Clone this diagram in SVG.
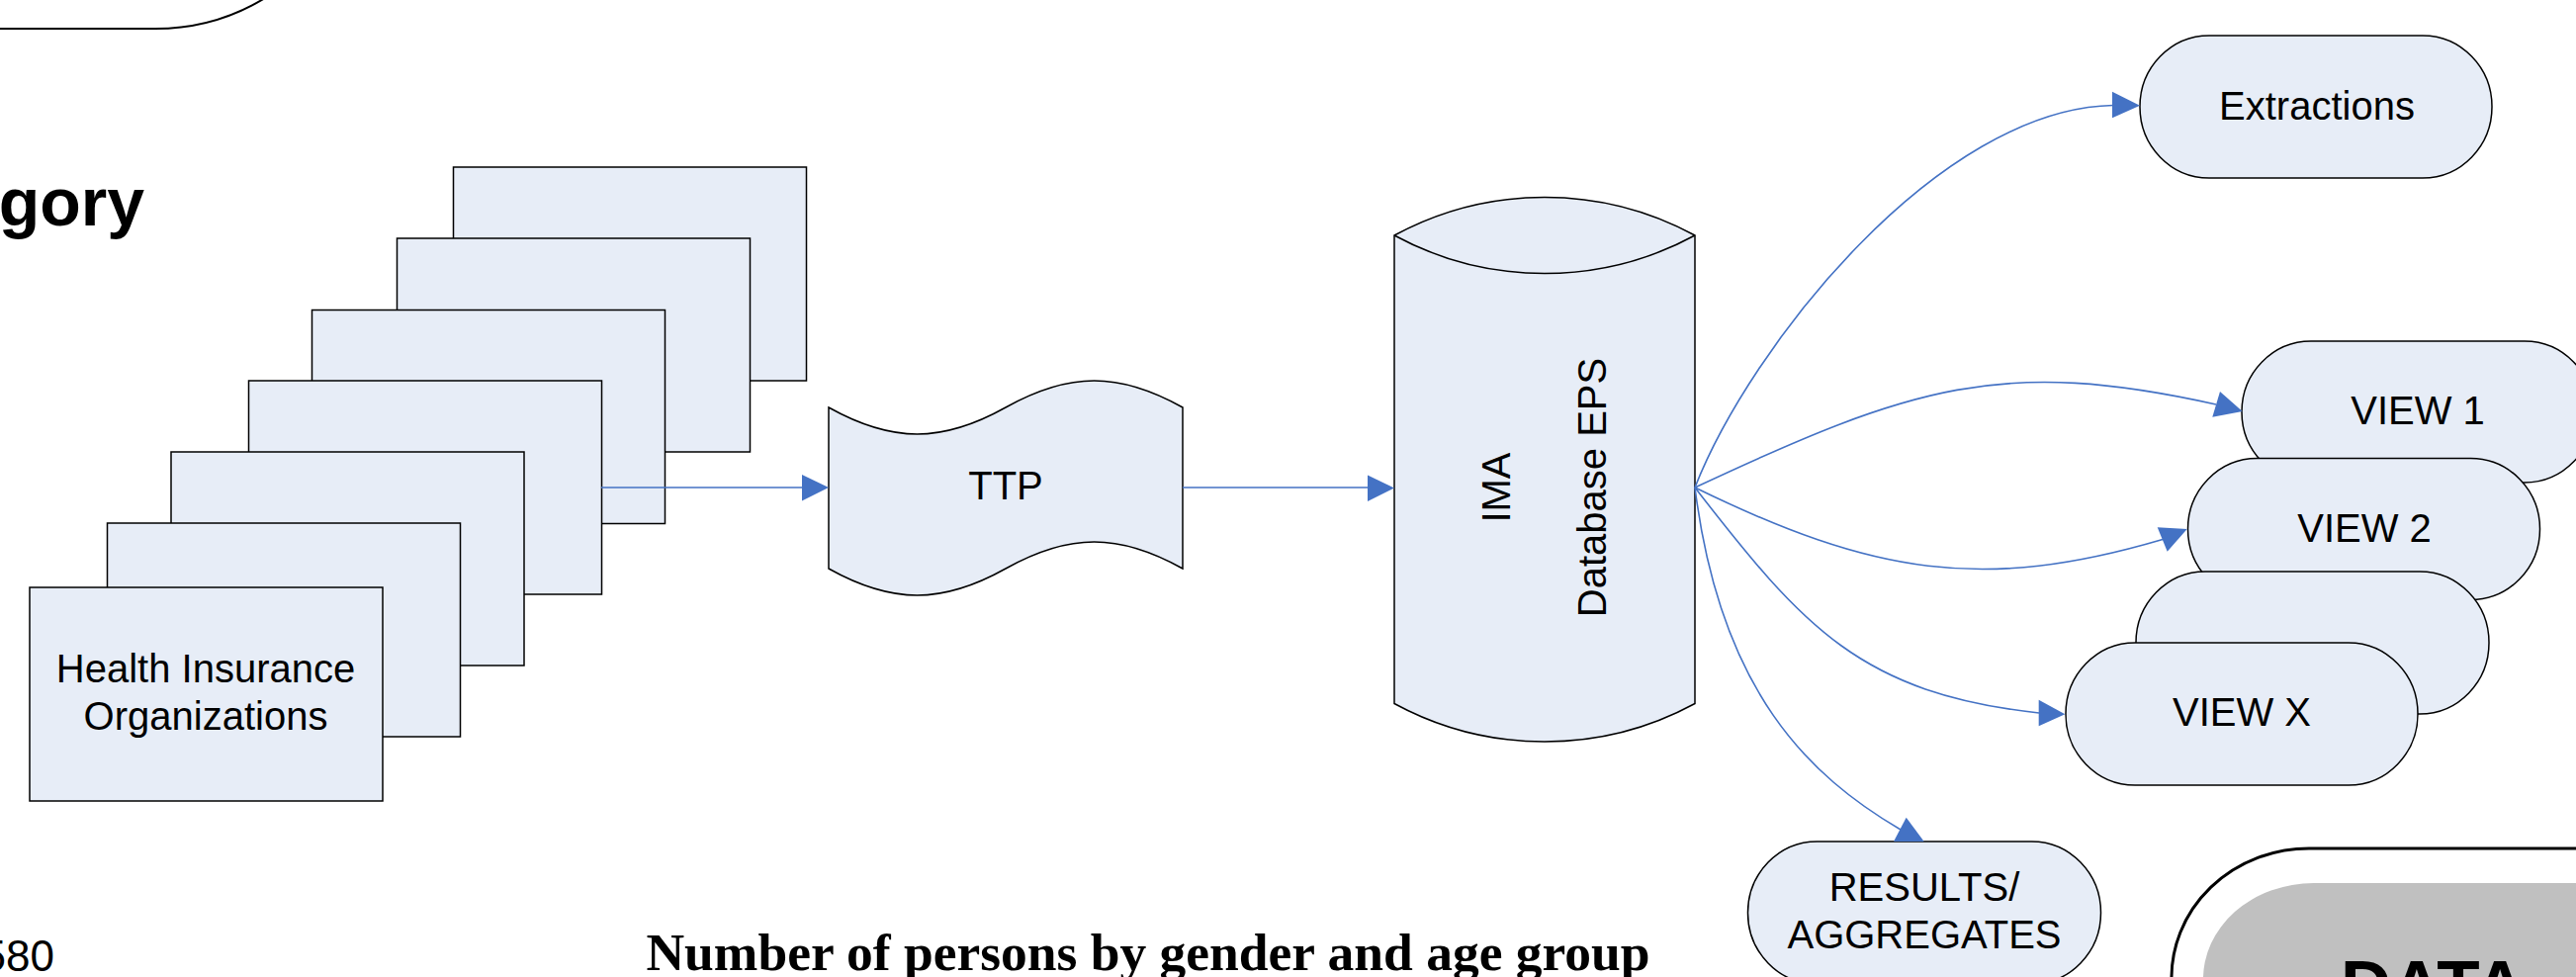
<svg xmlns="http://www.w3.org/2000/svg" width="2605" height="988" viewBox="0 0 2605 988">
  <style>
    .node { fill:#E7EDF7; stroke:#000; stroke-width:1.5; }
    .lbl { font-family:"Liberation Sans", Arial, sans-serif; font-size:40px; fill:#000; text-anchor:middle; }
    .conn { fill:none; stroke:#4472C4; stroke-width:1.6; }
    .head { fill:#4472C4; stroke:none; }
  </style>
  <rect x="0" y="0" width="2605" height="988" fill="#fff"/>

  <!-- partial shapes and texts at the margins -->
  <g id="top-left-shape">
    <path d="M-5,29 L157,29 C205,29 240,15 268,-2" fill="#fff" stroke="#000" stroke-width="2"/>
  </g>
  <text x="146" y="228" font-family="'Liberation Sans', Arial, sans-serif" font-size="68" font-weight="bold" text-anchor="end" fill="#000">gory</text>
  <text x="55" y="982" font-family="'Liberation Sans', Arial, sans-serif" font-size="44" text-anchor="end" fill="#000">580</text>
  <text x="1161" y="981" font-family="'Liberation Serif', 'Times New Roman', serif" font-size="53.5" font-weight="bold" text-anchor="middle" fill="#000">Number of persons by gender and age group</text>

  <g id="data-shape">
    <path d="M2196,992 A139,131 0 0 1 2335,858 L2612,858" fill="#fff" stroke="#000" stroke-width="3"/>
    <path d="M2228,992 A112,97 0 0 1 2340,893 L2612,893 L2612,992 Z" fill="#C0C0C0"/>
    <text x="2367" y="1021" font-family="'Liberation Sans', Arial, sans-serif" font-size="71" font-weight="bold" fill="#000">DATA</text>
  </g>

  <!-- stacked health insurance organizations -->
  <g id="hio-stack">
    <rect class="node" x="458.5" y="169" width="357" height="216"/>
    <rect class="node" x="401.5" y="241" width="357" height="216"/>
    <rect class="node" x="315.5" y="313.5" width="357" height="216"/>
    <rect class="node" x="251.5" y="385" width="357" height="216"/>
    <rect class="node" x="173" y="457" width="357" height="216"/>
    <rect class="node" x="108.5" y="529" width="357" height="216"/>
  </g>
  <g id="hio">
    <rect class="node" x="30" y="594" width="357" height="216"/>
    <text class="lbl" x="208" y="690">Health Insurance</text>
    <text class="lbl" x="208" y="738">Organizations</text>
  </g>

  <g id="ttp">
    <path class="node" d="M838,412 C902.4,448 952.6,448 1017,412 C1081.4,376 1131.6,376 1196,412 L1196,575 C1131.6,539 1081.4,539 1017,575 C952.6,611 902.4,611 838,575 Z"/>
    <text class="lbl" x="1017" y="505">TTP</text>
  </g>

  <g id="database">
    <path class="node" d="M1410,238 A319,319 0 0 1 1714,238 L1714,711.5 A319,319 0 0 1 1410,711.5 Z"/>
    <path d="M1410,238 A319,319 0 0 0 1714,238" fill="none" stroke="#000" stroke-width="1.5"/>
    <text class="lbl" transform="translate(1527,493) rotate(-90)" x="0" y="0">IMA</text>
    <text class="lbl" transform="translate(1624,493) rotate(-90)" x="0" y="0">Database EPS</text>
  </g>

  <g id="extractions">
    <rect class="node" x="2164" y="36" width="356" height="144" rx="70" ry="72"/>
    <text class="lbl" x="2343" y="121">Extractions</text>
  </g>

  <g id="view1">
    <rect class="node" x="2267" y="345" width="356" height="143" rx="70" ry="71.5"/>
    <text class="lbl" x="2445" y="429">VIEW 1</text>
  </g>
  <g id="view2">
    <rect class="node" x="2212.5" y="463.5" width="356" height="143" rx="70" ry="71.5"/>
    <text class="lbl" x="2391" y="548">VIEW 2</text>
  </g>
  <g id="view-blank">
    <rect class="node" x="2160" y="578" width="357" height="144" rx="70" ry="72"/>
  </g>
  <g id="viewx">
    <rect class="node" x="2089" y="650" width="356" height="144" rx="70" ry="72"/>
    <text class="lbl" x="2267" y="734">VIEW X</text>
  </g>

  <g id="results">
    <rect class="node" x="1767.5" y="851" width="357" height="144" rx="70" ry="72"/>
    <text class="lbl" x="1946" y="911">RESULTS/</text>
    <text class="lbl" x="1946" y="959">AGGREGATES</text>
  </g>

  <g id="connectors">
    <path class="conn" d="M608,493 L812,493"/>
    <polygon class="head" points="811,480 811,506.5 838,493"/>
    <path class="conn" d="M1196,493 L1384,493"/>
    <polygon class="head" points="1383,480.5 1383,507 1410,493.5"/>
    <path class="conn" d="M1714,493 C1770,350 1960,110 2137,106.5"/>
    <polygon class="head" points="2136,92.7 2136,119.3 2164,106.7"/>
    <path class="conn" d="M1714,493 C1934,390 2025,361 2241,409"/>
    <polygon class="head" points="2245,396 2237.3,421.7 2267.7,416"/>
    <path class="conn" d="M1714,493 C1894,581 2005,599 2187,545.5"/>
    <polygon class="head" points="2181.7,533.3 2191.7,557.7 2211.7,535"/>
    <path class="conn" d="M1714,493 C1824,635 1882,701 2062,721"/>
    <polygon class="head" points="2061.7,707.7 2061.7,734.3 2088.3,722.3"/>
    <path class="conn" d="M1714,493 C1740,700 1830,785 1922,839"/>
    <polygon class="head" points="1915,851 1945.7,851 1927.7,826.7"/>
  </g>
</svg>
